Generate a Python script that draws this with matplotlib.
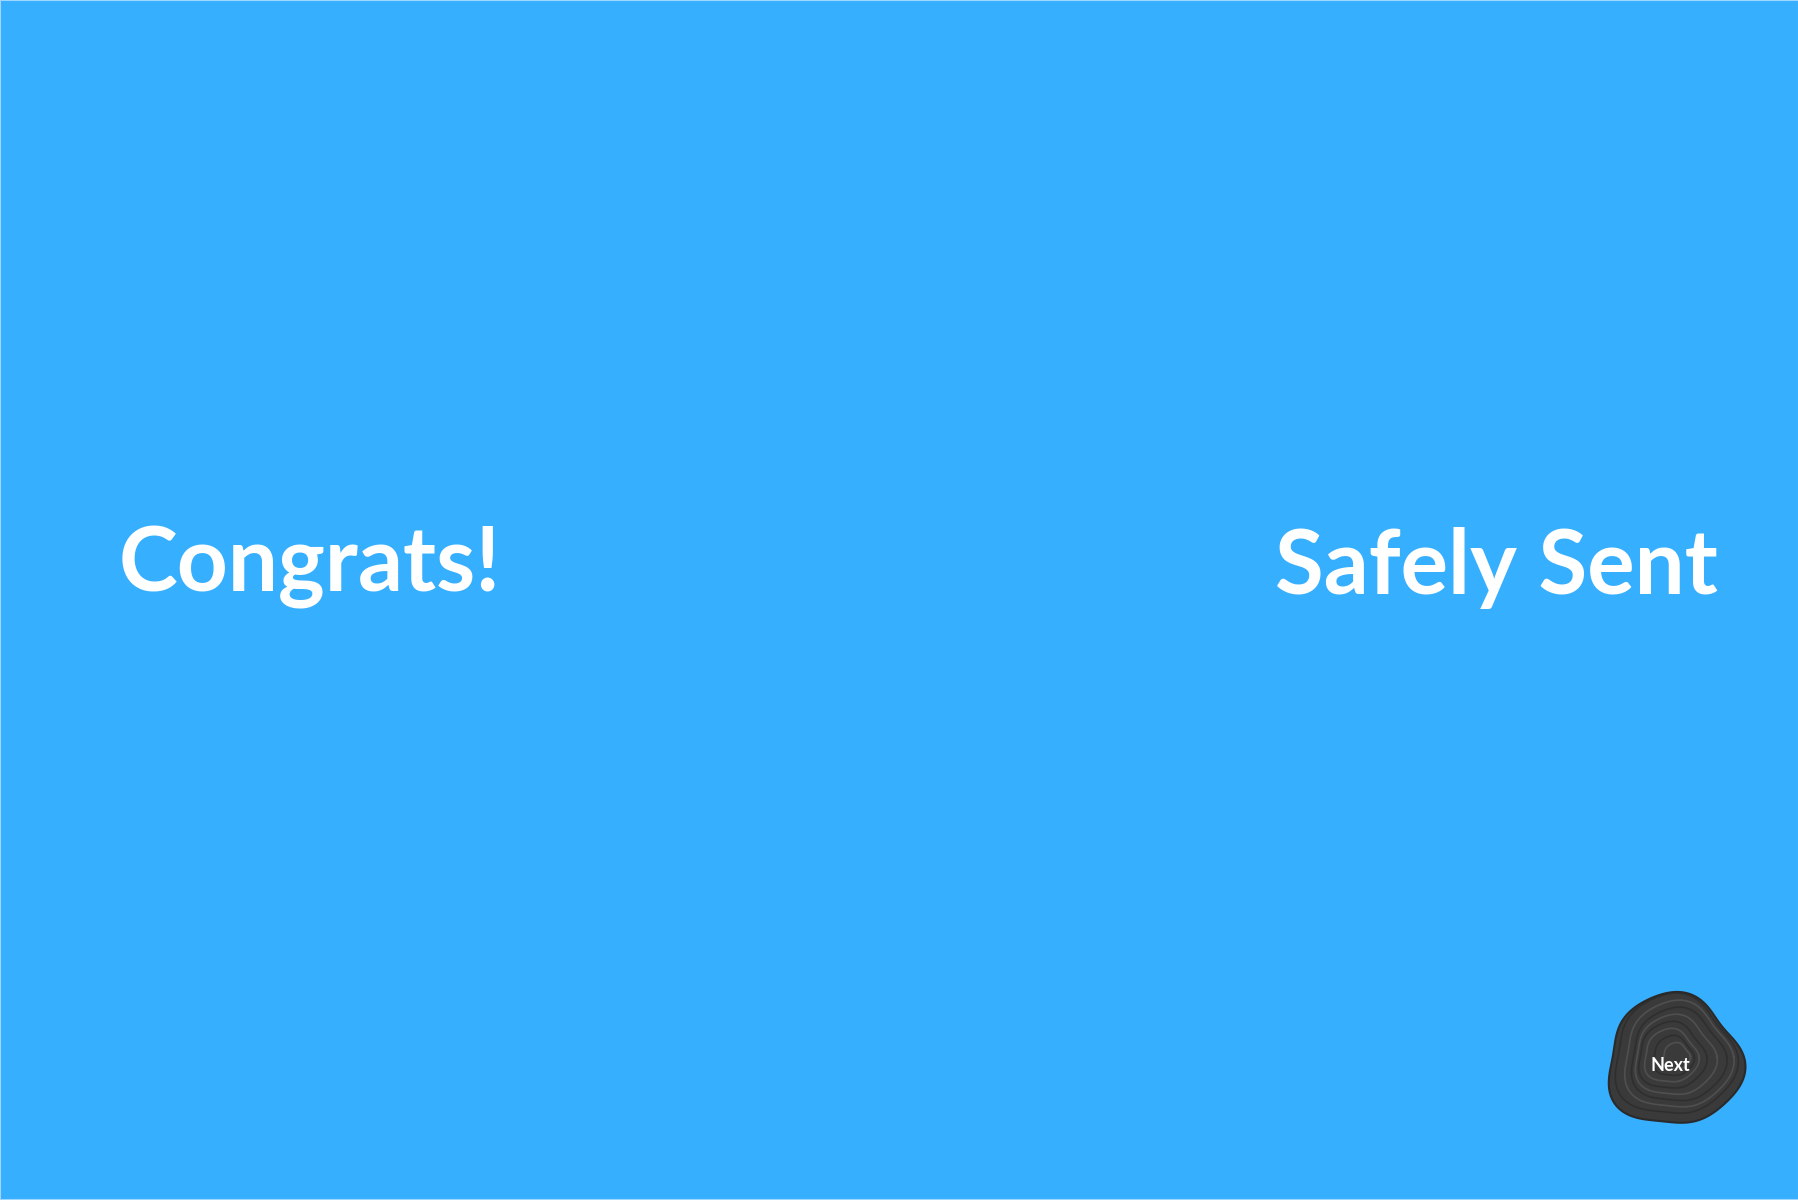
import matplotlib
matplotlib.use("Agg")
import matplotlib.pyplot as plt
import numpy as np
from matplotlib.patches import Polygon

title_left = "Congrats!"
title_right = "Safely Sent"
button_label = "Next"

fig = plt.figure(figsize=(17.99, 12.0), dpi=100)
fig.patch.set_facecolor("#37AFFF")
ax = fig.add_axes([0, 0, 1, 1])
ax.set_xlim(0, 1568)
ax.set_ylim(1046, 0)
ax.axis("off")
ax.add_patch(plt.Rectangle((0, 0), 1568, 1046, fill=False, ec="#9fd6ff", lw=1.5))

ax.text(103, 495, title_left, color="white", fontsize=64, fontweight="bold",
        family="Lato", ha="left", va="center")
ax.text(1497, 495, title_right, color="white", fontsize=64, fontweight="bold",
        family="Lato", ha="right", va="center")

# stone button
t = np.linspace(0, 2 * np.pi, 200)
r = 58 + 4 * np.sin(3 * t + 0.5) + 2 * np.cos(5 * t)
cx, cy = 1459, 925
ax.add_patch(Polygon(np.c_[cx + r * np.cos(t), cy + 0.98 * r * np.sin(t)],
                     closed=True, fc="#3a3a3a", ec="#2a2a2a", lw=1.5))
for k, s in enumerate(np.linspace(0.9, 0.2, 8)):
    rr = r * s
    ax.plot(cx + rr * np.cos(t) + 3 * np.sin(k), cy + rr * np.sin(t) - 4,
            color="#555555" if k % 2 else "#2c2c2c", lw=1.2, alpha=0.8)
ax.text(1456, 929, button_label, color="white", fontsize=13, fontweight="bold",
        family="Lato", ha="center", va="center")

fig.savefig("out.png", dpi=100, facecolor=fig.get_facecolor())
